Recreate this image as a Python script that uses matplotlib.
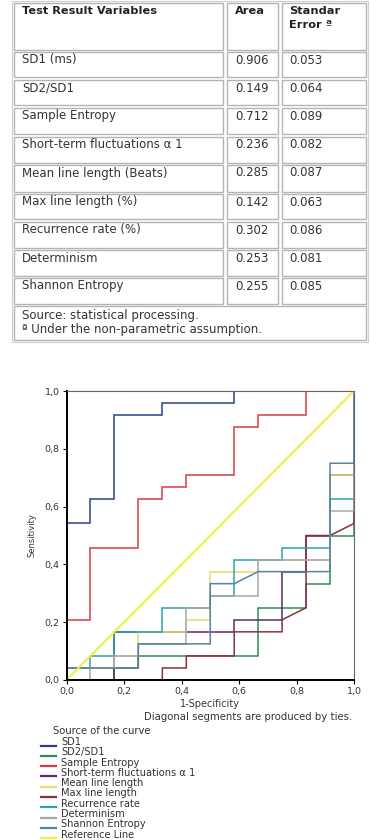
import matplotlib
matplotlib.use("Agg")
import matplotlib.pyplot as plt
from matplotlib.patches import Rectangle

# ---- table data ----
variables = ["SD1 (ms)", "SD2/SD1", "Sample Entropy", "Short-term fluctuations α 1",
             "Mean line length (Beats)", "Max line length (%)", "Recurrence rate (%)",
             "Determinism", "Shannon Entropy"]
areas = ["0.906", "0.149", "0.712", "0.236", "0.285", "0.142", "0.302", "0.253", "0.255"]
std_errors = ["0.053", "0.064", "0.089", "0.082", "0.087", "0.063", "0.086", "0.081", "0.085"]

# ---- ROC curves: x in steps of 1/12 (negatives), y in steps of 1/24 (positives) ----
n_neg, n_pos = 12, 24
sd1_x = [0, 0, 1, 1, 2, 2, 4, 4, 7, 7, 12]
sd1_y = [0, 13, 13, 15, 15, 22, 22, 23, 23, 24, 24]
sd2_x = [0, 2, 2, 3, 3, 8, 8, 10, 10, 11, 11, 12, 12]
sd2_y = [0, 0, 1, 1, 2, 2, 6, 6, 8, 8, 12, 12, 24]
sampen_x = [0, 0, 1, 1, 3, 3, 4, 4, 5, 5, 7, 7, 8, 8, 10, 10, 12]
sampen_y = [0, 5, 5, 11, 11, 15, 15, 16, 16, 17, 17, 21, 21, 22, 22, 24, 24]
alpha1_x = [0, 2, 2, 7, 7, 9, 9, 10, 10, 11, 11, 12, 12]
alpha1_y = [0, 0, 4, 4, 5, 5, 9, 9, 12, 12, 17, 17, 24]
meanl_x = [0, 0, 2, 2, 3, 3, 5, 5, 6, 6, 8, 8, 11, 11, 12, 12]
meanl_y = [0, 1, 1, 2, 2, 4, 4, 5, 5, 9, 9, 10, 10, 17, 17, 24]
maxl_x = [0, 4, 4, 5, 5, 7, 7, 9, 9, 10, 10, 11, 12, 12]
maxl_y = [0, 0, 1, 1, 2, 2, 4, 4, 5, 6, 12, 12, 13, 24]
rr_x = [0, 0, 1, 1, 2, 2, 4, 4, 6, 6, 7, 7, 9, 9, 11, 11, 12, 12]
rr_y = [0, 1, 1, 2, 2, 4, 4, 6, 6, 7, 7, 10, 10, 11, 11, 15, 15, 24]
det_x = [0, 1, 1, 2, 2, 3, 3, 5, 5, 6, 6, 8, 8, 11, 11, 12, 12]
det_y = [0, 0, 1, 1, 2, 2, 3, 3, 6, 6, 7, 7, 10, 10, 14, 14, 24]
shan_x = [0, 0, 3, 3, 6, 6, 7, 8, 11, 11, 12, 12]
shan_y = [0, 1, 1, 3, 3, 8, 8, 9, 9, 18, 18, 24]

curve_labels = ["SD1", "SD2/SD1", "Sample Entropy", "Short-term fluctuations α 1",
                "Mean line length", "Max line length", "Recurrence rate",
                "Determinism", "Shannon Entropy", "Reference Line"]
curve_colors = ["#2b3f86", "#2e8b57", "#d93a40", "#5a2d63", "#e6dc6e",
                "#8c2f40", "#2aa3a8", "#a8a8a8", "#5a80a3", "#f0f03c"]
curves = [(sd1_x, sd1_y), (sd2_x, sd2_y), (sampen_x, sampen_y), (alpha1_x, alpha1_y),
          (meanl_x, meanl_y), (maxl_x, maxl_y), (rr_x, rr_y), (det_x, det_y),
          (shan_x, shan_y)]

W, H = 371, 840
fig = plt.figure(figsize=(W / 100, H / 100), dpi=100)
fig.patch.set_facecolor("white")

# overlay in pixel coordinates for the table and the legend
ov = fig.add_axes([0, 0, 1, 1])
ov.set_xlim(0, W)
ov.set_ylim(H, 0)
ov.axis("off")

edge = "#b4b4b4"
col_x = [(14, 223), (227, 278), (282, 366)]
row_y = [(3, 50), (52, 77), (80, 105), (108, 134), (137, 163), (165, 192),
         (194, 219), (222, 248), (250, 276), (278, 304)]

def cell(x0, x1, y0, y1):
    ov.add_patch(Rectangle((x0, y0), x1 - x0, y1 - y0, fill=False,
                           edgecolor=edge, lw=1.0))

ov.add_patch(Rectangle((12, 1), 356, 341, fill=False, edgecolor="#d0d0d0", lw=0.8))
for (y0, y1) in row_y:
    for (x0, x1) in col_x:
        cell(x0, x1, y0, y1)
cell(14, 366, 306, 340)

hdr = dict(fontsize=8.2, fontweight="bold", color="#222222", va="center", ha="left")
ov.text(22, 11, "Test Result Variables", **hdr)
ov.text(235, 11, "Area", **hdr)
ov.text(289, 11, "Standar", **hdr)
ov.text(289, 25, "Error ª", **hdr)

body = dict(fontsize=8.5, color="#333333", va="center", ha="left")
for i, (v, a, s) in enumerate(zip(variables, areas, std_errors)):
    yc = row_y[i + 1][0] + 8
    ov.text(22, yc, v, **body)
    ov.text(235, yc, a, **body)
    ov.text(289, yc, s, **body)
ov.text(22, 315, "Source: statistical processing.", **body)
ov.text(22, 330, "ª Under the non-parametric assumption.", **body)

# ---- ROC chart ----
ax = fig.add_axes([66.5 / W, 1 - 680 / H, 287.5 / W, 289 / H])
for (cx, cy), color in zip(curves, curve_colors[:-1]):
    ax.plot([v / n_neg for v in cx], [v / n_pos for v in cy], color=color, lw=1.1,
            solid_joinstyle="miter")
ax.plot([0, 1], [0, 1], color=curve_colors[-1], lw=1.5)

ax.set_xlim(0, 1)
ax.set_ylim(0, 1)
ticks = [0.0, 0.2, 0.4, 0.6, 0.8, 1.0]
tick_labels = ["0,0", "0,2", "0,4", "0,6", "0,8", "1,0"]
ax.set_xticks(ticks)
ax.set_xticklabels(tick_labels)
ax.set_yticks(ticks)
ax.set_yticklabels(tick_labels)
ax.tick_params(labelsize=6.8, labelcolor="#333333", length=3, width=0.8, pad=2)
for s in ["left", "bottom"]:
    ax.spines[s].set_color("black")
    ax.spines[s].set_linewidth(1.4)
for s in ["top", "right"]:
    ax.spines[s].set_color("#666666")
    ax.spines[s].set_linewidth(0.8)
ax.set_ylabel("Sensitivity", fontsize=6, color="#333333", labelpad=6)
ax.set_xlabel("1-Specificity", fontsize=7, color="#333333", labelpad=2)

ov.text(352, 717, "Diagonal segments are produced by ties.", fontsize=7.3,
        color="#333333", ha="right", va="center")

# ---- legend ----
ov.text(53, 731, "Source of the curve", fontsize=7.2, color="#333333", va="center")
for i, (lab, color) in enumerate(zip(curve_labels, curve_colors)):
    yc = 742 + i * 10.3
    ov.plot([41, 56], [yc + 3.5, yc + 3.5], color=color, lw=1.6)
    ov.text(61, yc, lab, fontsize=7.1, color="#333333", va="center")

fig.savefig("out.png", dpi=100, facecolor="white")
